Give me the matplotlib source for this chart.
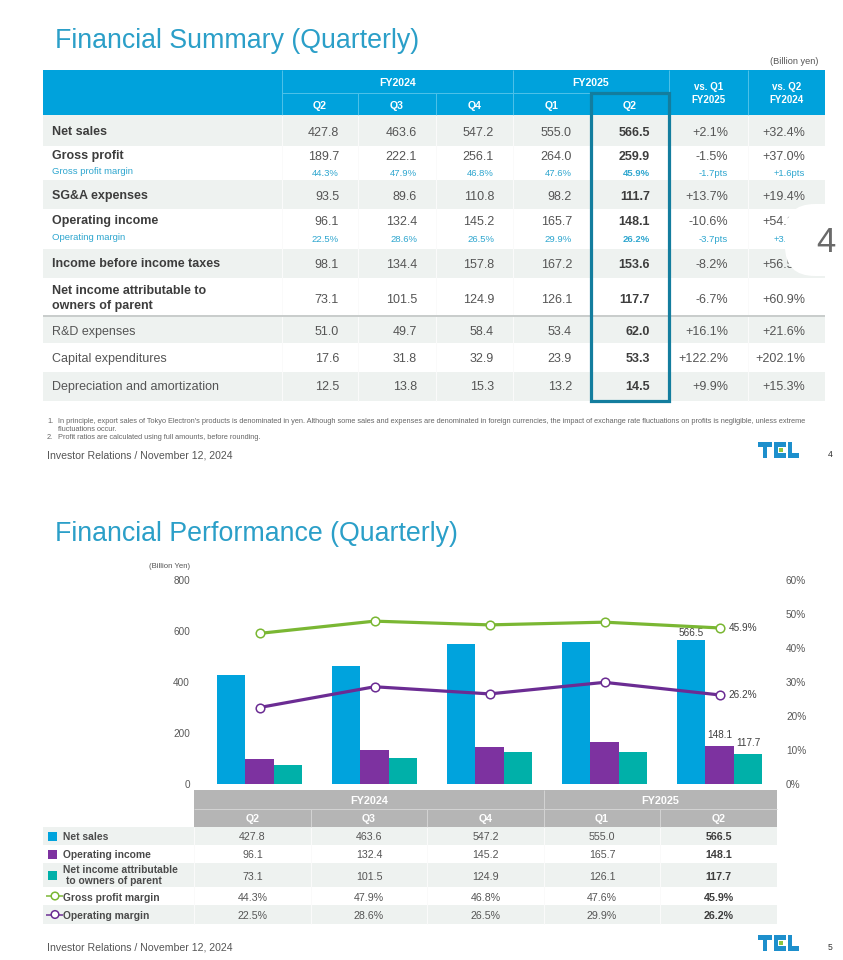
import numpy as np
import matplotlib
matplotlib.use("Agg")
import matplotlib.pyplot as plt
from matplotlib.patches import Rectangle, FancyBboxPatch, Circle

plt.rcParams['font.family'] = ['Liberation Sans', 'DejaVu Sans']

# ---------------- data ----------------
fiscal_years = ["FY2024", "FY2025"]
quarters = ["Q2", "Q3", "Q4", "Q1", "Q2"]
net_sales = [427.8, 463.6, 547.2, 555.0, 566.5]
gross_profit = [189.7, 222.1, 256.1, 264.0, 259.9]
gross_margin = [44.3, 47.9, 46.8, 47.6, 45.9]
sga_expenses = [93.5, 89.6, 110.8, 98.2, 111.7]
operating_income = [96.1, 132.4, 145.2, 165.7, 148.1]
operating_margin = [22.5, 28.6, 26.5, 29.9, 26.2]
income_before_taxes = [98.1, 134.4, 157.8, 167.2, 153.6]
net_income = [73.1, 101.5, 124.9, 126.1, 117.7]
rd_expenses = [51.0, 49.7, 58.4, 53.4, 62.0]
capex = [17.6, 31.8, 32.9, 23.9, 53.3]
depreciation = [12.5, 13.8, 15.3, 13.2, 14.5]
vs_q1_fy2025 = ["+2.1%", "-1.5%", "+13.7%", "-10.6%", "-8.2%", "-6.7%", "+16.1%", "+122.2%", "+9.9%"]
vs_q2_fy2024 = ["+32.4%", "+37.0%", "+19.4%", "+54.1%", "+56.5%", "+60.9%", "+21.6%", "+202.1%", "+15.3%"]
margin_vs_q1 = ["-1.7pts", "-3.7pts"]
margin_vs_q2 = ["+1.6pts", "+3.7pts"]
summary_labels = ["Net sales", "Gross profit", "SG&A expenses", "Operating income",
                  "Income before income taxes", "Net income attributable to\nowners of parent",
                  "R&D expenses", "Capital expenditures", "Depreciation and amortization"]
perf_labels = ["Net sales", "Operating income", "Net income attributable\nto owners of parent",
               "Gross profit margin", "Operating margin"]

# ---------------- colors ----------------
TITLE_C = "#2b9fc8"
HEAD_BLUE = "#00a2dc"
SHADE = "#eef2f0"
TXT = "#555555"
DARK = "#3d3d3d"
SUB_C = "#2ea6cf"
C_SALES = "#00a3dd"
C_OPI = "#7d32a0"
C_NI = "#00b0a9"
C_GPM = "#7ab733"
C_OPM = "#6b2c93"

W, H = 843, 960
fig = plt.figure(figsize=(W / 100, H / 100), dpi=100)
bg = fig.add_axes([0, 0, 1, 1])
bg.set_xlim(0, W)
bg.set_ylim(H, 0)
bg.axis('off')


def pt(px):
    return px * 0.72


def T(x, y, s, size, color=TXT, ha='left', weight='normal', va='baseline', z=5, **kw):
    bg.text(x, y, s, fontsize=size, color=color, ha=ha, va=va, fontweight=weight, zorder=z, **kw)


def rect(x0, y0, x1, y1, color, z=1):
    bg.add_patch(Rectangle((x0, y0), x1 - x0, y1 - y0, facecolor=color, edgecolor='none', zorder=z))


def line(x0, y0, x1, y1, color, lw_px=1, z=2):
    bg.plot([x0, x1], [y0, y1], color=color, lw=pt(lw_px), zorder=z, solid_capstyle='butt')


def tel_logo(x0, y0):
    h = 16.0
    t = 4.6
    blue = "#1d8fcc"
    rect(x0, y0, x0 + 14, y0 + t, blue, 6)
    rect(x0 + 4.7, y0, x0 + 4.7 + t, y0 + h, blue, 6)
    ex = x0 + 15.5
    rect(ex, y0, ex + t, y0 + h, blue, 6)
    rect(ex, y0, ex + 12.5, y0 + t, blue, 6)
    rect(ex, y0 + h - t, ex + 12.5, y0 + h, blue, 6)
    rect(ex + t + 1.2, y0 + 5.8, ex + t + 5.2, y0 + 10.2, "#8cc63f", 6)
    lx = x0 + 29.5
    rect(lx, y0, lx + t, y0 + h, blue, 6)
    rect(lx, y0 + h - t, lx + 11, y0 + h, blue, 6)


# =============== TOP SLIDE: Financial Summary ===============
T(55, 48, "Financial Summary (Quarterly)", 19.3, TITLE_C)
T(818, 64, "(Billion yen)", 6.6, TXT, ha='right')

cols = [43, 282, 358, 436, 513, 591, 669, 748, 825]
rect(43, 70, 825, 115, HEAD_BLUE)
HL = "#4cc0e8"
line(282, 70, 282, 115, HL)
line(282, 93, 669, 93, HL)
for cx in [358, 436, 591]:
    line(cx, 93, cx, 115, HL)
for cx in [513, 669, 748]:
    line(cx, 70, cx, 115, HL)
HS = 7.6
T((282 + 513) / 2, 86, fiscal_years[0], HS, 'white', ha='center', weight='bold')
T((513 + 669) / 2, 86, fiscal_years[1], HS, 'white', ha='center', weight='bold')
for i, q in enumerate(quarters):
    T((cols[i + 1] + cols[i + 2]) / 2, 109, q, HS, 'white', ha='center', weight='bold')
T((669 + 748) / 2, 90, "vs. Q1", 7.0, 'white', ha='center', weight='bold')
T((669 + 748) / 2, 103, "FY2025", 7.0, 'white', ha='center', weight='bold')
T((748 + 825) / 2, 90, "vs. Q2", 7.0, 'white', ha='center', weight='bold')
T((748 + 825) / 2, 103, "FY2024", 7.0, 'white', ha='center', weight='bold')

row_bounds = [(115, 146), (146, 180), (180, 209), (209, 249), (249, 278),
              (278, 316), (316, 343), (343, 372), (372, 401)]
row_base = [136, 160, 200, 225, 268, 303, 335, 362, 390]
summary_values = [net_sales, gross_profit, sga_expenses, operating_income,
                  income_before_taxes, net_income, rd_expenses, capex, depreciation]
for r, (y0, y1) in enumerate(row_bounds):
    if r % 2 == 0:
        rect(43, y0, 825, y1, SHADE)
for cx in cols[1:-1]:
    line(cx, 115, cx, 401, "#fafafa", 1, 2)
line(43, 316, 825, 316, "#c9cdcc", 2, 3)

for r, lab in enumerate(summary_labels):
    bold = r < 6
    b = row_base[r]
    lines_ = lab.split("\n")
    if len(lines_) == 2:
        T(52, 294, lines_[0], 9.0, DARK, weight='bold')
        T(52, 309, lines_[1], 9.0, DARK, weight='bold')
    else:
        T(52, b - (1 if bold else 0), lab, 9.0, DARK if bold else TXT, weight='bold' if bold else 'normal')
    for i, v in enumerate(summary_values[r]):
        T(cols[i + 2] - 19, b, f"{v:.1f}", 9.0, DARK if i == 4 else TXT, ha='right',
          weight='bold' if i == 4 else 'normal')
    T(cols[7] - 20, b, vs_q1_fy2025[r], 9.0, TXT, ha='right')
    T(cols[8] - 20, b, vs_q2_fy2024[r], 9.0, TXT, ha='right')

for k, (lab, vals, b) in enumerate([("Gross profit margin", gross_margin, 175),
                                    ("Operating margin", operating_margin, 241)]):
    T(52, b - 1, lab, 6.8, SUB_C)
    for i, v in enumerate(vals):
        T(cols[i + 2] - 19, b + 1, f"{v:.1f}%", 6.8, SUB_C, ha='right',
          weight='bold' if i == 4 else 'normal')
    T(cols[7] - 20, b + 1, margin_vs_q1[k], 6.8, SUB_C, ha='right')
    T(cols[8] - 20, b + 1, margin_vs_q2[k], 6.8, SUB_C, ha='right')

bg.add_patch(Rectangle((591, 93), 78, 308, facecolor='none', edgecolor="#137d9e",
                       lw=pt(3.2), zorder=8))

bg.add_patch(FancyBboxPatch((785, 204), 100, 72, boxstyle="round,pad=0,rounding_size=30",
                            facecolor='white', edgecolor='none', zorder=9))
T(826, 252, "4", 25, "#6a6a6a", ha='center', z=10)

FN = 5.3
T(47, 423, "1.", FN, "#666666")
T(58, 423, "In principle, export sales of Tokyo Electron's products is denominated in yen. Although some sales and "
           "expenses are denominated in foreign currencies, the impact of exchange rate fluctuations on profits is "
           "negligible, unless extreme", FN, "#666666")
T(58, 431, "fluctuations occur.", FN, "#666666")
T(47, 439, "2.", FN, "#666666")
T(58, 439, "Profit ratios are calculated using full amounts, before rounding.", FN, "#666666")

T(47, 458, "Investor Relations / November 12, 2024", 7.6, "#555555")
tel_logo(758, 442)
T(830, 457, "4", 6.2, "#333333", ha='center')

# =============== BOTTOM SLIDE: Financial Performance ===============
T(55, 541, "Financial Performance (Quarterly)", 19.3, TITLE_C)
T(190, 568, "(Billion Yen)", 5.6, TXT, ha='right')

ax = fig.add_axes([202 / W, 1 - 784 / H, 575 / W, 204 / H])
ax.patch.set_alpha(0)
x = np.arange(len(quarters))
bw = 0.248
ax.bar(x - bw, net_sales, bw, color=C_SALES, zorder=2)
ax.bar(x, operating_income, bw, color=C_OPI, zorder=2)
ax.bar(x + bw, net_income, bw, color=C_NI, zorder=2)
ax.set_xlim(-0.5, 4.5)
ax.set_ylim(0, 800)
ax.set_yticks([0, 200, 400, 600, 800])
ax.set_xticks([])
ax.tick_params(axis='y', length=0, pad=pt(12), labelsize=7.2, labelcolor='#595959')
for s in ax.spines.values():
    s.set_visible(False)

ax2 = ax.twinx()
ax2.set_ylim(0, 60)
ax2.set_yticks(range(0, 61, 10))
ax2.set_yticklabels([f"{v}%" for v in range(0, 61, 10)])
ax2.tick_params(axis='y', length=0, pad=pt(9), labelsize=7.2, labelcolor='#595959')
for s in ax2.spines.values():
    s.set_visible(False)
ax2.plot(x, gross_margin, color=C_GPM, lw=2.3, marker='o', ms=6.2, mfc='white', mec=C_GPM, mew=1.1,
         zorder=3, solid_capstyle='round')
ax2.plot(x, operating_margin, color=C_OPM, lw=2.3, marker='o', ms=6.2, mfc='white', mec=C_OPM, mew=1.1,
         zorder=3, solid_capstyle='round')

lab_kw = dict(fontsize=7.2, color='#404040', textcoords='offset points')
ax.annotate(f"{net_sales[-1]:.1f}", (x[-1] - bw, net_sales[-1]), xytext=(0, pt(2)), ha='center', va='bottom', **lab_kw)
ax.annotate(f"{operating_income[-1]:.1f}", (x[-1], operating_income[-1]), xytext=(0, pt(6)), ha='center', va='bottom', **lab_kw)
ax.annotate(f"{net_income[-1]:.1f}", (x[-1] + bw, net_income[-1]), xytext=(0, pt(6)), ha='center', va='bottom', **lab_kw)
ax2.annotate(f"{gross_margin[-1]:.1f}%", (x[-1], gross_margin[-1]), xytext=(pt(9), 0), ha='left', va='center', **lab_kw)
ax2.annotate(f"{operating_margin[-1]:.1f}%", (x[-1], operating_margin[-1]), xytext=(pt(9), 0), ha='left', va='center', **lab_kw)

bcols = [194, 311, 427, 544, 660, 777]
rect(194, 790, 777, 827, "#b5b5b5")
GL = "#d2d2d2"
line(194, 809, 777, 809, GL)
for cx in [311, 427, 660]:
    line(cx, 809, cx, 827, GL)
line(544, 790, 544, 827, GL)
T((194 + 544) / 2, 804, fiscal_years[0], 7.8, 'white', ha='center', weight='bold')
T((544 + 777) / 2, 804, fiscal_years[1], 7.8, 'white', ha='center', weight='bold')
for i, q in enumerate(quarters):
    T((bcols[i] + bcols[i + 1]) / 2, 822, q, 7.6, 'white', ha='center', weight='bold')

brows = [(827, 845), (845, 863), (863, 887), (887, 905), (905, 924)]
bbase = [840, 858, 880, 901, 919]
for r, (y0, y1) in enumerate(brows):
    if r % 2 == 0:
        rect(43, y0, 777, y1, SHADE)
for cx in bcols[:-1]:
    line(cx, 827, cx, 924, "#fafafa", 1, 2)

perf_values = [[f"{v:.1f}" for v in net_sales], [f"{v:.1f}" for v in operating_income],
               [f"{v:.1f}" for v in net_income], [f"{v:.1f}%" for v in gross_margin],
               [f"{v:.1f}%" for v in operating_margin]]
for r, vals in enumerate(perf_values):
    for i, s in enumerate(vals):
        T((bcols[i] + bcols[i + 1]) / 2, bbase[r], s, 7.7, DARK if i == 4 else TXT, ha='center',
          weight='bold' if i == 4 else 'normal')

LAB = "#4a4a4a"
LS = 7.4
for r, (col, lab) in enumerate(zip([C_SALES, C_OPI, C_NI], perf_labels[:3])):
    if r < 2:
        sq_c = (brows[r][0] + brows[r][1]) / 2
        rect(48, sq_c - 4.5, 57, sq_c + 4.5, col, 4)
        T(63, bbase[r], lab, LS, LAB, weight='bold')
    else:
        rect(48, 870.5, 57, 879.5, col, 4)
        l1, l2 = lab.split("\n")
        T(63, 873, l1, LS, LAB, weight='bold')
        T(66, 884, l2, LS, LAB, weight='bold')
for r, (col, lab) in enumerate(zip([C_GPM, C_OPM], perf_labels[3:])):
    yc = (brows[3 + r][0] + brows[3 + r][1]) / 2
    line(46, yc, 63, yc, col, 1.5, 4)
    bg.add_patch(Circle((55, yc), 3.8, facecolor='white', edgecolor=col, lw=1.1, zorder=5))
    T(63, bbase[3 + r], lab, LS, LAB, weight='bold')

T(47, 950, "Investor Relations / November 12, 2024", 7.6, "#555555")
tel_logo(758, 935)
T(830, 950, "5", 6.2, "#333333", ha='center')

fig.savefig("out.png", dpi=100)
